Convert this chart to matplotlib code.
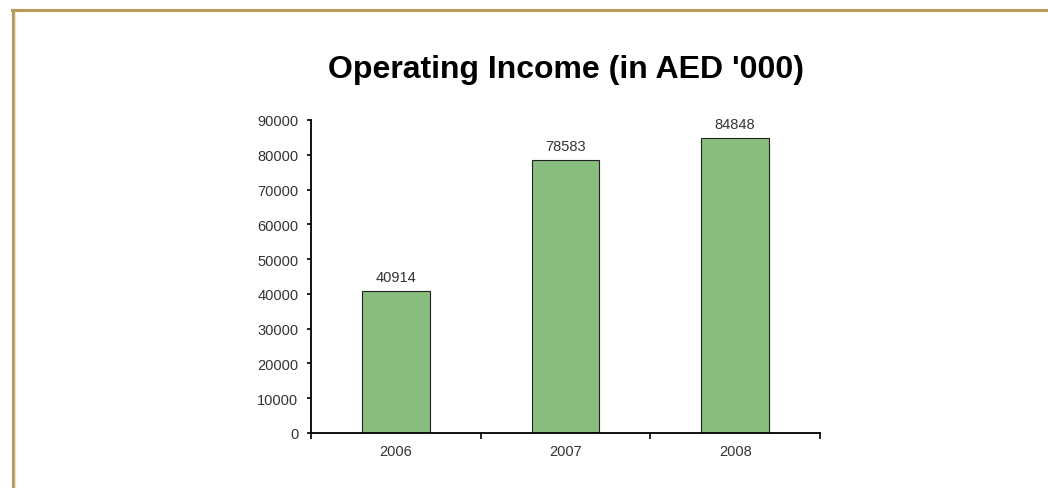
import matplotlib.pyplot as plt
from matplotlib.lines import Line2D

years = ["2006", "2007", "2008"]
income = [40914, 78583, 84848]
y_ticks = [0, 10000, 20000, 30000, 40000, 50000, 60000, 70000, 80000, 90000]

plt.rcParams['font.family'] = ['Liberation Sans', 'DejaVu Sans']

fig = plt.figure(figsize=(10.48, 4.89), dpi=100)
ax = fig.add_axes([311 / 1048, 1 - 434 / 489, 509 / 1048, 313 / 489])

x = range(len(years))
bars = ax.bar(x, income, width=0.4, color='#88bd7e', edgecolor='#222222', linewidth=0.8)
for b, v in zip(bars, income):
    ax.text(b.get_x() + b.get_width() / 2, v + 2000, str(v),
            ha='center', va='bottom', fontsize=10.5, color='#333333')

ax.set_xlim(-0.5, len(years) - 0.5)
ax.set_ylim(0, 90000)
ax.set_yticks(y_ticks)
ax.set_yticklabels([str(t) for t in y_ticks], fontsize=10.5, color='#333333')

# category labels centred, tick marks on the boundaries
ax.set_xticks([-0.5, 0.5, 1.5, 2.5])
ax.set_xticklabels([])
ax.set_xticks(list(x), minor=True)
ax.set_xticklabels(years, minor=True, fontsize=10.5, color='#333333')
ax.tick_params(axis='x', which='major', direction='out', length=4, width=1.2)
ax.tick_params(axis='x', which='minor', length=0, pad=8)
ax.tick_params(axis='y', direction='out', length=3, width=1.2, pad=6)

for s in ['top', 'right']:
    ax.spines[s].set_visible(False)
for s in ['left', 'bottom']:
    ax.spines[s].set_linewidth(1.3)

fig.text(566 / 1048, 1 - 70 / 489, "Operating Income (in AED '000)",
         ha='center', va='center', fontsize=23, fontweight='bold')

# frame lines at top and left
fig.add_artist(Line2D([12 / 1048, 1], [1 - 11 / 489] * 2, color='#b89a5a', lw=2.2,
                      transform=fig.transFigure))
fig.add_artist(Line2D([12.5 / 1048] * 2, [0, 1 - 11 / 489], color='#b89a5a', lw=2.2,
                      transform=fig.transFigure))
fig.add_artist(Line2D([15 / 1048] * 2, [0, 1 - 13 / 489], color='#eee3cc', lw=1,
                      transform=fig.transFigure))

fig.savefig('out.png', dpi=100)
